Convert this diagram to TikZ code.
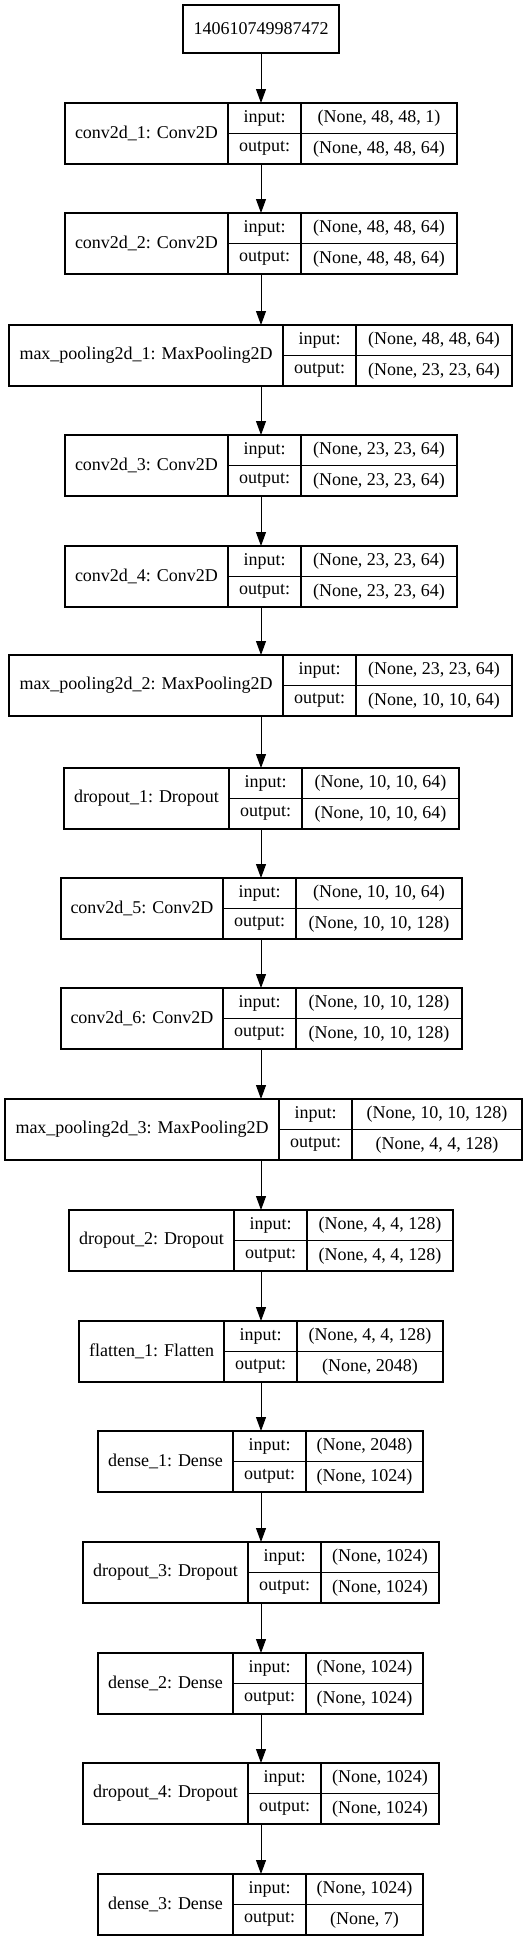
\documentclass[tikz,border=0pt]{standalone}
\usepackage{fontspec}
\setmainfont{Liberation Serif}
\usetikzlibrary{arrows.meta,fit}

\tikzset{
    cell/.style={draw, rectangle, line width=1.2pt, inner sep=0pt, outer sep=0pt, font=\fontsize{18}{20}\selectfont},
    flow/.style={-{Triangle[length=14pt, width=10pt]}, line width=1pt}
}

% one layer record: id, top, x0, x1, x2, x3, label, input shape, output shape
\newcommand{\layer}[9]{%
    \node[cell, minimum width={#4-#3}, minimum height=61] (#1-name) at ({(#3+#4)/2}, {#2+30.5}) {#7};
    \node[cell, minimum width={#5-#4}, minimum height=30.5] (#1-ink) at ({(#4+#5)/2}, {#2+15.25}) {input:};
    \node[cell, minimum width={#5-#4}, minimum height=30.5] (#1-outk) at ({(#4+#5)/2}, {#2+45.75}) {output:};
    \node[cell, minimum width={#6-#5}, minimum height=30.5] (#1-inv) at ({(#5+#6)/2}, {#2+15.25}) {#8};
    \node[cell, minimum width={#6-#5}, minimum height=30.5] (#1-outv) at ({(#5+#6)/2}, {#2+45.75}) {#9};
    \node[fit=(#1-name)(#1-inv)(#1-outv), inner sep=0pt, outer sep=0pt] (#1) {};
}

\begin{document}
\begin{tikzpicture}[x=1pt, y=-1pt]
    \useasboundingbox (0,0) rectangle (527,1941);

    \node[cell, minimum width=156, minimum height=48] (input) at (261, 29) {140610749987472};
    \coordinate (spine) at (261, 0);

    \layer{c1}{103}{65}{228}{301}{457}{conv2d\_1: Conv2D}{(None, 48, 48, 1)}{(None, 48, 48, 64)}
    \layer{c2}{213}{65}{228}{301}{457}{conv2d\_2: Conv2D}{(None, 48, 48, 64)}{(None, 48, 48, 64)}
    \layer{p1}{325}{9}{283}{356}{512}{max\_pooling2d\_1: MaxPooling2D}{(None, 48, 48, 64)}{(None, 23, 23, 64)}
    \layer{c3}{435}{65}{228}{301}{457}{conv2d\_3: Conv2D}{(None, 23, 23, 64)}{(None, 23, 23, 64)}
    \layer{c4}{546}{65}{228}{301}{457}{conv2d\_4: Conv2D}{(None, 23, 23, 64)}{(None, 23, 23, 64)}
    \layer{p2}{655}{9}{283}{356}{512}{max\_pooling2d\_2: MaxPooling2D}{(None, 23, 23, 64)}{(None, 10, 10, 64)}
    \layer{d1}{768}{64}{229}{302}{459}{dropout\_1: Dropout}{(None, 10, 10, 64)}{(None, 10, 10, 64)}
    \layer{c5}{878}{61}{223}{296}{462}{conv2d\_5: Conv2D}{(None, 10, 10, 64)}{(None, 10, 10, 128)}
    \layer{c6}{988}{61}{223}{296}{462}{conv2d\_6: Conv2D}{(None, 10, 10, 128)}{(None, 10, 10, 128)}
    \layer{p3}{1099}{5}{279}{352}{522}{max\_pooling2d\_3: MaxPooling2D}{(None, 10, 10, 128)}{(None, 4, 4, 128)}
    \layer{d2}{1210}{69}{234}{307}{453}{dropout\_2: Dropout}{(None, 4, 4, 128)}{(None, 4, 4, 128)}
    \layer{f1}{1321}{79}{224}{297}{443}{flatten\_1: Flatten}{(None, 4, 4, 128)}{(None, 2048)}
    \layer{e1}{1431}{98}{233}{306}{423}{dense\_1: Dense}{(None, 2048)}{(None, 1024)}
    \layer{d3}{1542}{83}{248}{321}{439}{dropout\_3: Dropout}{(None, 1024)}{(None, 1024)}
    \layer{e2}{1653}{98}{233}{306}{423}{dense\_2: Dense}{(None, 1024)}{(None, 1024)}
    \layer{d4}{1763}{83}{248}{321}{439}{dropout\_4: Dropout}{(None, 1024)}{(None, 1024)}
    \layer{e3}{1874}{98}{233}{306}{423}{dense\_3: Dense}{(None, 1024)}{(None, 7)}

    % connectors, all on one vertical line
    \foreach \a/\b in {input/c1, c1/c2, c2/p1, p1/c3, c3/c4, c4/p2, p2/d1, d1/c5, c5/c6, c6/p3, p3/d2, d2/f1, f1/e1, e1/d3, d3/e2, e2/d4, d4/e3}
        \draw[flow] (spine |- \a.south) -- (spine |- \b.north);
\end{tikzpicture}
\end{document}
